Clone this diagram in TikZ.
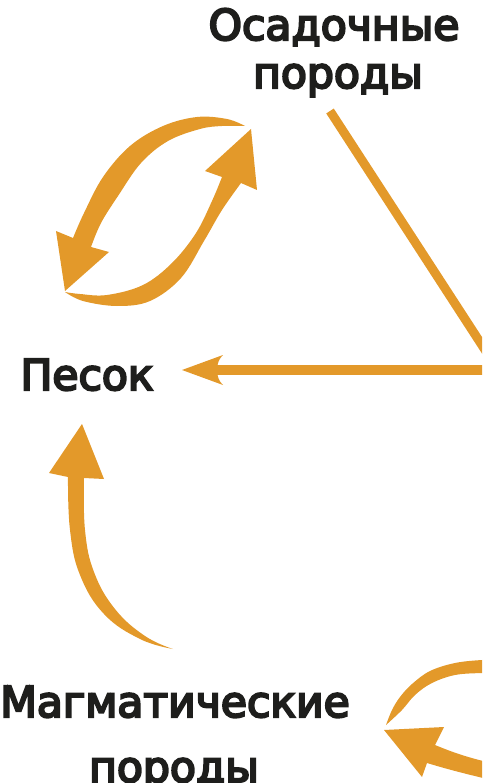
\documentclass[tikz,border=0pt]{standalone}
\usepackage{fontspec}
\setmainfont{DejaVu Sans}
\newfontfamily\labelfont{DejaVu Sans}[FakeBold=5]
\definecolor{rockorange}{HTML}{E3992A}
\definecolor{rocktext}{HTML}{1E1E1C}
\begin{document}
\begin{tikzpicture}[x=1pt,y=-1pt,
  label/.style={inner sep=0pt, anchor=base, text=rocktext, font=\labelfont\fontsize{42.5}{42.5}\selectfont},
  band/.style={fill=rockorange},
  rule/.style={draw=rockorange, line cap=butt}]
\useasboundingbox (0,0) rectangle (482,783);
\clip (0,0) rectangle (482,783);

% labels
\node[label] (sed1) at (334,40) {Осадочные};
\node[label] (sed2) at (338,88) {породы};
\node[label] (sand) at (87,390) {Песок};
\node[label] (ign1) at (175,717) {Магматические};
\node[label] (ign2) at (174,782) {породы};

% straight connectors
\coordinate (diagA) at (330,111);
\coordinate (diagB) at (500,373);
\coordinate (horA) at (500,370);
\coordinate (horB) at (214,370);
\draw[rule, line width=9pt] (diagA) -- (diagB);
\draw[rule, line width=10pt] (horA) -- (horB);
\fill[band] (182,370) -- (223,355) .. controls (215,362) and (215,378) .. (223,385) -- cycle;

% arrow A: from top (near sed) down-left to sand
\fill[band] plot[smooth, tension=0.6] coordinates {(245,126) (227,119) (197,117) (163,126) (130,146) (103,177) (84,213) (73,238)}
  -- (56,231) -- (65,291) -- (109,252) -- (91,247)
  -- plot[smooth, tension=0.6] coordinates {(91,247) (101,223) (118,196) (141,163) (168,141) (200,129) (222,126) (245,126)} -- cycle;

% arrow B: from sand up-right to sed
\fill[band] plot[smooth, tension=0.6] coordinates {(65,292) (83,301) (117,306) (150,301) (181,278) (204,241) (222,210) (241,183)}
  -- (257,190) -- (251,129) -- (205,171) -- (222,177)
  -- plot[smooth, tension=0.6] coordinates {(222,177) (212,201) (196,233) (172,263) (143,285) (107,295) (80,294) (65,292)} -- cycle;

% arrow C: from igneous up to sand
\fill[band] plot[smooth, tension=0.7] coordinates {(173,649) (140,639) (104,614) (80,575) (70,530) (68,477)}
  -- (49,473) -- (82,424) -- (104,479) -- (84,478)
  -- plot[smooth, tension=0.7] coordinates {(84,478) (85,530) (94,572) (115,609) (145,636) (173,649)} -- cycle;

% arrow D: bottom right upper curve
\fill[band] plot[smooth, tension=0.6] coordinates {(386,725) (392,710) (400,697) (412,684) (430,671) (455,663) (482,660) (500,660)}
  -- (500,673)
  -- plot[smooth, tension=0.6] coordinates {(500,673) (482,673) (455,675) (432,683) (415,695) (402,710) (386,725)} -- cycle;

% arrow E: bottom right arrow into igneous
\fill[band] (384,730) -- (444,727) -- (435,745)
  .. controls (452,752) and (468,758) .. (500,765) -- (500,782)
  .. controls (470,775) and (450,770) .. (427,763) -- (422,777) -- cycle;
\end{tikzpicture}
\end{document}
